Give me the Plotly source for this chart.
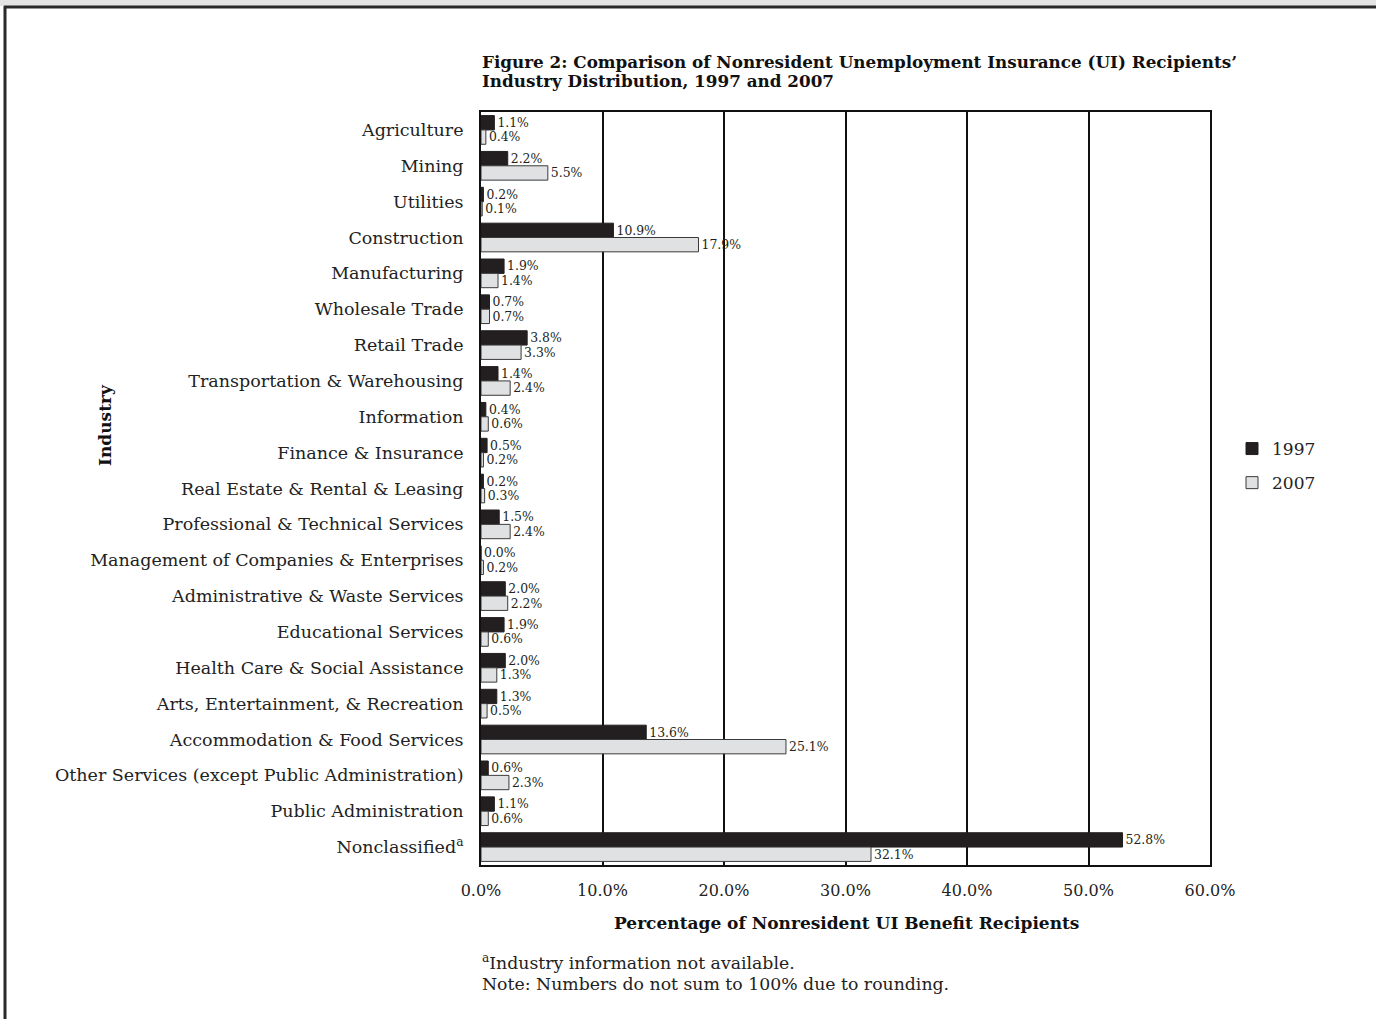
import plotly.graph_objects as go

# Industry distribution of nonresident UI recipients (percent)
industries = [
    "Agriculture", "Mining", "Utilities", "Construction", "Manufacturing",
    "Wholesale Trade", "Retail Trade", "Transportation & Warehousing",
    "Information", "Finance & Insurance", "Real Estate & Rental & Leasing",
    "Professional & Technical Services", "Management of Companies & Enterprises",
    "Administrative & Waste Services", "Educational Services",
    "Health Care & Social Assistance", "Arts, Entertainment, & Recreation",
    "Accommodation & Food Services",
    "Other Services (except Public Administration)", "Public Administration",
    "Nonclassified<sup>a</sup>",
]
share_1997 = [1.1, 2.2, 0.2, 10.9, 1.9, 0.7, 3.8, 1.4, 0.4, 0.5, 0.2, 1.5, 0.0,
              2.0, 1.9, 2.0, 1.3, 13.6, 0.6, 1.1, 52.8]
share_2007 = [0.4, 5.5, 0.1, 17.9, 1.4, 0.7, 3.3, 2.4, 0.6, 0.2, 0.3, 2.4, 0.2,
              2.2, 0.6, 1.3, 0.5, 25.1, 2.3, 0.6, 32.1]
x_ticks = [0, 10, 20, 30, 40, 50, 60]
x_tick_labels = ["0.0%", "10.0%", "20.0%", "30.0%", "40.0%", "50.0%", "60.0%"]
title_lines = [
    "Figure 2: Comparison of Nonresident Unemployment Insurance (UI) Recipients’",
    "Industry Distribution, 1997 and 2007",
]
note_lines = [
    "<sup>a</sup>Industry information not available.",
    "Note: Numbers do not sum to 100% due to rounding.",
]

W, H = 1376, 1019
L, R, T, B = 481, 1210, 112, 865
FONT = "DejaVu Serif"


def px_x(p):
    return (p - L) / (R - L)


def px_y(p):
    return (B - p) / (B - T)


fig = go.Figure()
fig.add_trace(go.Bar(
    y=industries, x=share_1997, orientation="h", name="1997",
    legendgroup="y1997",
    marker=dict(color="#231f20", line=dict(color="#231f20", width=1)),
    text=[f"{v:.1f}%" for v in share_1997], textposition="outside",
    textfont=dict(family=FONT, size=13, color="#231f20"),
    cliponaxis=False,
))
fig.add_trace(go.Bar(
    y=industries, x=share_2007, orientation="h", name="2007",
    legendgroup="y2007",
    marker=dict(color="#e0e1e2", line=dict(color="#3a3a3a", width=1)),
    text=[f"{v:.1f}%" for v in share_2007], textposition="outside",
    textfont=dict(family=FONT, size=13, color="#231f20"),
    cliponaxis=False,
))

shapes = [
    # page frame: grey strip along the top, then dark rule and left edge
    dict(type="rect", xref="paper", yref="paper", x0=px_x(0), x1=px_x(W),
         y0=px_y(0), y1=px_y(6), fillcolor="#e4e4e4", line=dict(width=0),
         layer="below"),
    dict(type="line", xref="paper", yref="paper", x0=px_x(4), x1=px_x(W),
         y0=px_y(7), y1=px_y(7), line=dict(color="#2a2a2a", width=3)),
    dict(type="line", xref="paper", yref="paper", x0=px_x(5), x1=px_x(5),
         y0=px_y(6), y1=px_y(H), line=dict(color="#2a2a2a", width=3)),
]

annotations = []
# two-line bold heading, set line by line for tight leading
for line, cy in zip(title_lines, [62, 81]):
    annotations.append(dict(
        text=f"<b>{line}</b>", xref="paper", yref="paper",
        x=px_x(480), y=px_y(cy), xanchor="left", yanchor="middle",
        showarrow=False, font=dict(family=FONT, size=16.8, color="#111")))
for line, cy in zip(note_lines, [962, 984]):
    annotations.append(dict(
        text=line, xref="paper", yref="paper",
        x=px_x(480), y=px_y(cy), xanchor="left", yanchor="middle",
        showarrow=False, font=dict(family=FONT, size=17.3, color="#222")))
annotations += [
    dict(text="<b>Industry</b>", xref="paper", yref="paper",
         x=px_x(105), y=px_y(425), xanchor="center", yanchor="middle",
         textangle=-90, showarrow=False,
         font=dict(family=FONT, size=17, color="#111")),
    dict(text="<b>Percentage of Nonresident UI Benefit Recipients</b>",
         xref="paper", yref="paper", x=px_x(846), y=px_y(923),
         xanchor="center", yanchor="middle",
         showarrow=False, font=dict(family=FONT, size=17, color="#111")),
]

fig.update_layout(
    width=W, height=H,
    margin=dict(l=L, r=W - R, t=T, b=H - B),
    paper_bgcolor="white", plot_bgcolor="white",
    barmode="group", bargap=0.2, bargroupgap=0.0,
    font=dict(family=FONT, color="#222"),
    showlegend=True,
    legend=dict(x=px_x(1232), y=px_y(431), xanchor="left", yanchor="top",
                font=dict(family=FONT, size=17, color="#222"),
                traceorder="grouped", tracegroupgap=9, itemwidth=30,
                bgcolor="rgba(0,0,0,0)"),
    shapes=shapes, annotations=annotations,
    xaxis=dict(range=[0, 60], tickvals=x_ticks, ticktext=x_tick_labels,
               showgrid=True, gridcolor="#111", gridwidth=2,
               showline=True, linecolor="#111", linewidth=2, mirror=True,
               zeroline=False, ticks="", ticklabelstandoff=10,
               tickfont=dict(family=FONT, size=16, color="#222")),
    yaxis=dict(autorange="reversed", showline=True, linecolor="#111",
               linewidth=2, mirror=True, showgrid=False, ticks="",
               ticklabelstandoff=12,
               tickfont=dict(family=FONT, size=17.5, color="#222")),
)

fig.write_html("out.html")
